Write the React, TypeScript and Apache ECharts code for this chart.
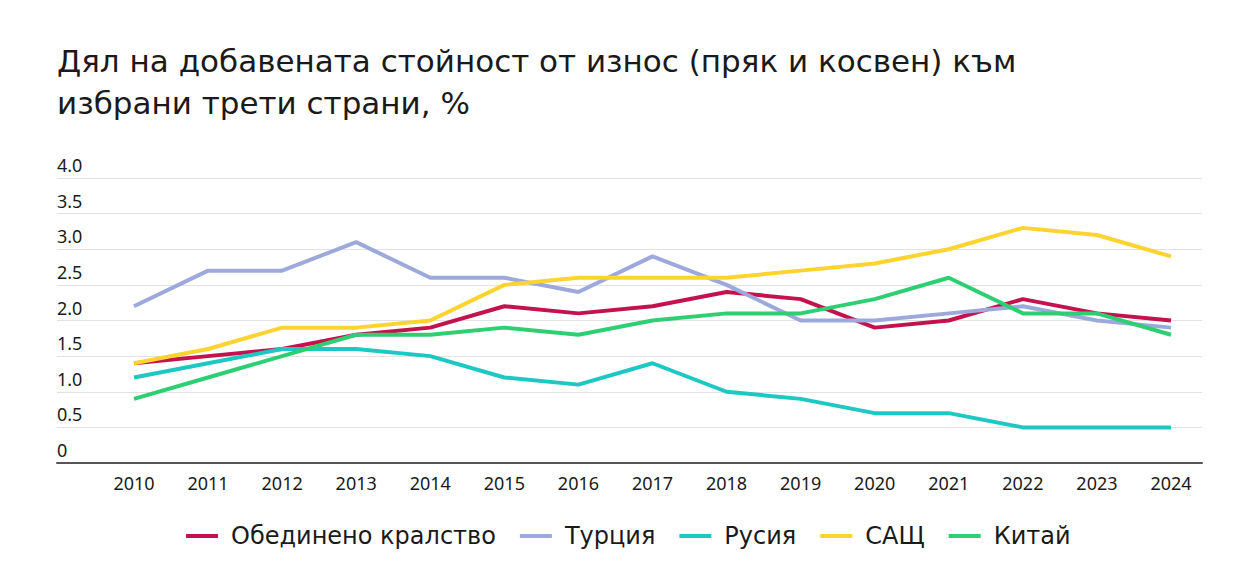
import { useEffect, useRef } from "react";
import * as echarts from "echarts";

const years = ["2010", "2011", "2012", "2013", "2014", "2015", "2016", "2017", "2018", "2019", "2020", "2021", "2022", "2023", "2024"];

const uk = [1.4, 1.5, 1.6, 1.8, 1.9, 2.2, 2.1, 2.2, 2.4, 2.3, 1.9, 2.0, 2.3, 2.1, 2.0];
const turkey = [2.2, 2.7, 2.7, 3.1, 2.6, 2.6, 2.4, 2.9, 2.5, 2.0, 2.0, 2.1, 2.2, 2.0, 1.9];
const russia = [1.2, 1.4, 1.6, 1.6, 1.5, 1.2, 1.1, 1.4, 1.0, 0.9, 0.7, 0.7, 0.5, 0.5, 0.5];
const usa = [1.4, 1.6, 1.9, 1.9, 2.0, 2.5, 2.6, 2.6, 2.6, 2.7, 2.8, 3.0, 3.3, 3.2, 2.9];
const china = [0.9, 1.2, 1.5, 1.8, 1.8, 1.9, 1.8, 2.0, 2.1, 2.1, 2.3, 2.6, 2.1, 2.1, 1.8];

const seriesList = [
  { name: "Обединено кралство", data: uk, color: "#c4124f" },
  { name: "Турция", data: turkey, color: "#9da9da" },
  { name: "Русия", data: russia, color: "#1ec8c2" },
  { name: "САЩ", data: usa, color: "#fdd330" },
  { name: "Китай", data: china, color: "#2ecf72" },
];

const FONT = "'Noto Sans', sans-serif";
const WIDE = "'DejaVu Sans', sans-serif";

export default function App() {
  const ref = useRef<HTMLDivElement>(null);
  useEffect(() => {
    if (!ref.current) return;
    const chart = echarts.init(ref.current, undefined, { renderer: "svg" });
    chart.setOption({
      animation: false,
      backgroundColor: "#ffffff",
      textStyle: { fontFamily: FONT },
      title: {
        text: "Дял на добавената стойност от износ (пряк и косвен) към\nизбрани трети страни, %",
        left: 52,
        top: 35,
        textStyle: { fontSize: 31, fontWeight: "normal", color: "#1a1a1a", lineHeight: 42, fontFamily: WIDE },
      },
      legend: {
        left: 181,
        top: 519,
        icon: "rect",
        itemWidth: 32,
        itemHeight: 4,
        itemGap: 24,
        textStyle: { fontSize: 24, color: "#1a1a1a", padding: [0, 0, 0, 8], fontFamily: WIDE },
        data: seriesList.map((s) => s.name),
      },
      grid: [
        { left: 57, right: 36, top: 178, height: 285 },
        { left: 134, right: 67, top: 178, height: 285 },
      ],
      xAxis: [
        {
          gridIndex: 0,
          type: "value",
          min: 0,
          max: 1,
          axisLine: { show: true, lineStyle: { color: "#555555", width: 2 } },
          axisTick: { show: false },
          axisLabel: { show: false },
          splitLine: { show: false },
        },
        {
          gridIndex: 1,
          type: "category",
          data: years,
          boundaryGap: false,
          axisLine: { show: false },
          axisTick: { show: false },
          splitLine: { show: false },
          axisLabel: { fontSize: 18, color: "#1a1a1a", margin: 11 },
        },
      ],
      yAxis: [
        {
          gridIndex: 0,
          type: "value",
          min: 0,
          max: 4,
          interval: 0.5,
          axisLine: { show: false },
          axisTick: { show: false },
          splitLine: { lineStyle: { color: "#e2e2e2", width: 1 } },
          axisLabel: {
            inside: true,
            margin: 0,
            fontSize: 18,
            color: "#1a1a1a",
            verticalAlign: "bottom",
            padding: [0, 0, 4, 0],
            formatter: (v: number) => (v === 0 ? "0" : v.toFixed(1)),
          },
        },
        {
          gridIndex: 1,
          type: "value",
          min: 0,
          max: 4,
          show: false,
        },
      ],
      series: seriesList.map((s) => ({
        name: s.name,
        type: "line",
        xAxisIndex: 1,
        yAxisIndex: 1,
        data: s.data,
        showSymbol: false,
        symbol: "none",
        color: s.color,
        lineStyle: { width: 4, color: s.color },
      })),
    });
    return () => chart.dispose();
  }, []);
  return <div ref={ref} style={{ position: "fixed", left: 0, top: 0, width: 1238, height: 584 }} />;
}
